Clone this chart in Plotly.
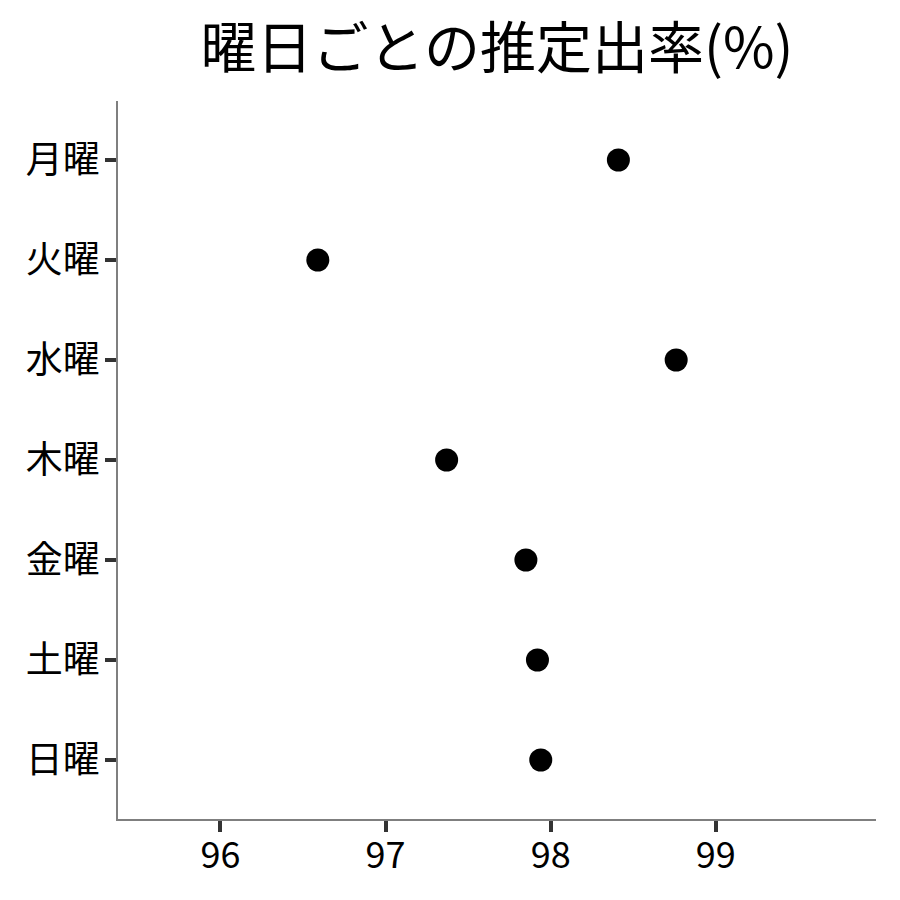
import plotly.graph_objects as go

days = ["月曜", "火曜", "水曜", "木曜", "金曜", "土曜", "日曜"]
rates = [98.41, 96.59, 98.76, 97.37, 97.85, 97.92, 97.94]
x_ticks = [96, 97, 98, 99]
title_text = "曜日ごとの推定出率(%)"

FONT = "Noto Sans CJK JP"

fig = go.Figure(go.Scatter(
    x=rates, y=days, mode="markers",
    marker=dict(color="black", size=23, line=dict(width=0)),
))

fig.update_layout(
    width=892, height=892,
    paper_bgcolor="white", plot_bgcolor="white",
    margin=dict(l=110, r=24, t=93, b=81),
    showlegend=False,
    font=dict(family=FONT, color="black"),
    title=dict(text=title_text, x=0.5, xref="paper", xanchor="center",
               y=0.955, yanchor="middle",
               font=dict(family=FONT, size=56, color="black")),
)
fig.update_xaxes(
    range=[95.38, 99.97], tickvals=x_ticks, ticktext=[str(v) for v in x_ticks],
    showgrid=False, zeroline=False,
    showline=True, linecolor="#7f7f7f", linewidth=1.5,
    ticks="outside", ticklen=11, tickwidth=3.5, tickcolor="#333333",
    ticklabelstandoff=-7,
    tickfont=dict(family=FONT, size=36, color="black"),
)
fig.update_yaxes(
    type="category", categoryorder="array", categoryarray=days,
    range=[6.59, -0.59],
    showgrid=False, zeroline=False,
    showline=True, linecolor="#7f7f7f", linewidth=1.5,
    ticks="outside", ticklen=11, tickwidth=3.5, tickcolor="#333333",
    ticklabelstandoff=-2,
    tickfont=dict(family=FONT, size=37, color="black"),
)

fig.write_html("out.html")
